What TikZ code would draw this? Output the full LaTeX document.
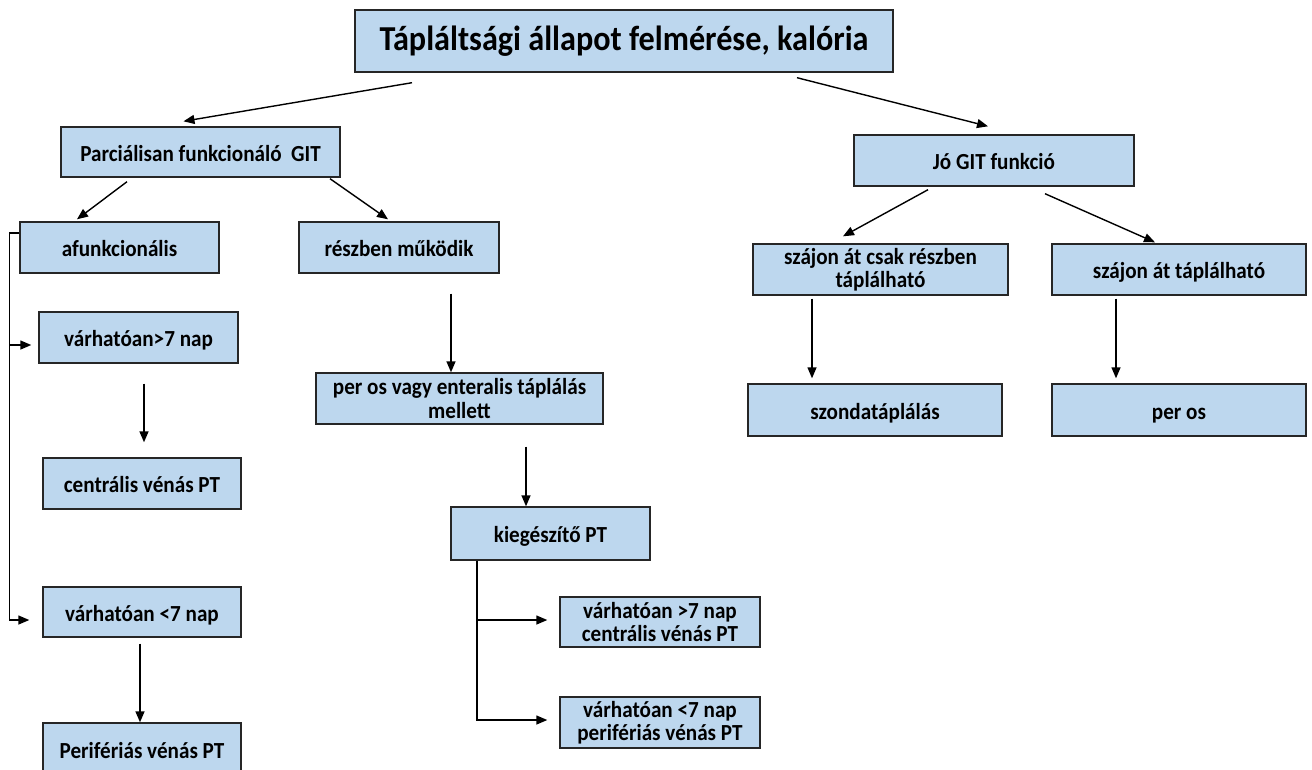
\documentclass[tikz,border=0pt]{standalone}
\usepackage{fontspec}
\setmainfont{Carlito}[FakeStretch=0.92]
\usetikzlibrary{arrows.meta}
\definecolor{boxfill}{HTML}{BDD7EE}
\definecolor{boxline}{HTML}{262626}
\tikzset{
  box/.style={draw=boxline, fill=boxfill, line width=1.4pt, inner sep=0pt,
    align=center, font=\bfseries\fontsize{23}{23.5}\selectfont},
  one/.style={box, text height=18.5pt, text depth=0pt},
  titlebox/.style={box, font=\bfseries\fontsize{35}{38}\selectfont},
  arr/.style={line width=1.4pt, draw=black, -{Triangle[length=11pt,width=9pt]}}
}
\begin{document}
\begin{tikzpicture}[x=1pt,y=-1pt]
\useasboundingbox (0,0) rectangle (1312,769);
\clip (0,0) rectangle (1312,769);
\fill[white] (0,0) rectangle (1312,769);
% nodes
\node[titlebox, minimum width=538pt, minimum height=62pt] (title) at (624,41) {Tápláltsági állapot felmérése, kalória};
\node[one, minimum width=279pt, minimum height=50pt] (parc) at (200.5,152) {Parciálisan funkcionáló\ \ GIT};
\node[one, minimum width=199pt, minimum height=51pt] (afunk) at (119.5,247.5) {afunkcionális};
\node[one, minimum width=200pt, minimum height=51pt] (reszben) at (399,247.5) {részben működik};
\node[one, minimum width=199pt, minimum height=51pt] (v7a) at (138.5,337.5) {várhatóan>7 nap};
\node[one, minimum width=198pt, minimum height=51pt] (cvpt) at (142,483.5) {centrális vénás PT};
\node[one, minimum width=198pt, minimum height=50pt] (v7b) at (142,612) {várhatóan <7 nap};
\node[one, minimum width=198pt, minimum height=52pt] (perif) at (142,749) {Perifériás vénás PT};
\node[box, minimum width=287pt, minimum height=51pt] (perosent) at (459.5,398.5) {per os vagy enteralis táplálás\\mellett};
\node[one, minimum width=199pt, minimum height=53pt] (kieg) at (550.5,533.5) {kiegészítő PT};
\node[box, minimum width=200pt, minimum height=50pt] (k7a) at (660,622) {várhatóan >7 nap\\centrális vénás PT};
\node[box, minimum width=200pt, minimum height=51pt] (k7b) at (660,722.5) {várhatóan <7 nap\\perifériás vénás PT};
\node[one, minimum width=280pt, minimum height=51pt] (jo) at (994,160.5) {Jó GIT funkció};
\node[box, minimum width=255pt, minimum height=51pt] (szcs) at (880.5,269.5) {szájon át csak részben\\táplálható};
\node[one, minimum width=254pt, minimum height=51pt] (szt) at (1179,269.5) {szájon át táplálható};
\node[one, minimum width=254pt, minimum height=52pt] (szonda) at (875,410) {szondatáplálás};
\node[one, minimum width=254pt, minimum height=52pt] (peros) at (1179,410) {per os};
% connectors
\draw[arr] ([xshift=-212pt,yshift=-10pt]title.south) -- ([xshift=-17pt,yshift=5pt]parc.north);
\draw[arr] ([xshift=173pt,yshift=-5pt]title.south) -- ([xshift=-6pt,yshift=8pt]jo.north);
\draw[arr] ([xshift=-73.5pt,yshift=-4pt]parc.south) -- ([xshift=-42.5pt,yshift=2pt]afunk.north);
\draw[arr] ([xshift=129.5pt,yshift=-1pt]parc.south) -- ([xshift=-11pt,yshift=2pt]reszben.north);
\draw[arr] ([xshift=52pt,yshift=-20pt]reszben.south) -- ([xshift=-8.5pt]perosent.north);
\draw[arr] ([xshift=66.5pt,yshift=-22pt]perosent.south) -- ([xshift=-24.5pt]kieg.north);
\draw[arr] ([xshift=-73.5pt]kieg.south) |- ([xshift=-12pt,yshift=2pt]k7a.west);
\draw[arr] ([xshift=-73.5pt]kieg.south) |- ([xshift=-12pt,yshift=2.5pt]k7b.west);
\draw[arr] ([yshift=14.5pt]afunk.west) -- ++(-10pt,0pt) |- ([xshift=-7pt,yshift=-7.5pt]v7a.west);
\draw[arr] ([yshift=14.5pt]afunk.west) -- ++(-10pt,0pt) |- ([xshift=-13pt,yshift=-8pt]v7b.west);
\draw[arr] ([xshift=5.5pt,yshift=-20pt]v7a.south) -- ([xshift=2pt,yshift=15pt]cvpt.north);
\draw[arr] ([xshift=-2pt,yshift=-6pt]v7b.south) -- ([xshift=-2pt]perif.north);
\draw[arr] ([xshift=-66pt,yshift=-3pt]jo.south) -- ([xshift=-37.5pt,yshift=7pt]szcs.north);
\draw[arr] ([xshift=51pt,yshift=-7pt]jo.south) -- ([xshift=-24pt,yshift=1pt]szt.north);
\draw[arr] ([xshift=-68.5pt,yshift=-3pt]szcs.south) -- ([xshift=-63pt,yshift=5pt]szonda.north);
\draw[arr] ([xshift=-63pt,yshift=-3pt]szt.south) -- ([xshift=-63pt,yshift=5pt]peros.north);
\end{tikzpicture}
\end{document}
